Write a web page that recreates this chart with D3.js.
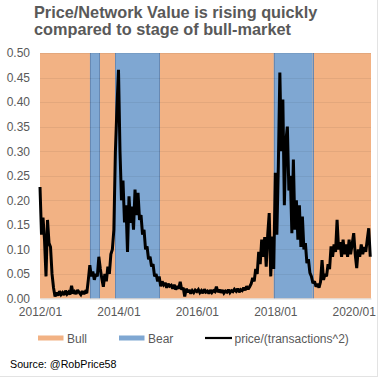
<!DOCTYPE html>
<html>
<head>
<meta charset="utf-8">
<script src="https://cdn.jsdelivr.net/npm/d3@7"></script>
<style>
  html, body { margin: 0; padding: 0; background: #fff; }
  svg { display: block; font-family: "Liberation Sans", Arial, sans-serif; }
</style>
</head>
<body>
<svg id="chart" width="379" height="378"></svg>
<script>
// ---- Data ----
const titleLines = ["Price/Network Value is rising quickly", "compared to stage of bull-market"];
const yTicks = [0.00, 0.05, 0.10, 0.15, 0.20, 0.25, 0.30, 0.35, 0.40, 0.45, 0.50];
const xTickLabels = ["2012/01", "2014/01", "2016/01", "2018/01", "2020/01"];
const xTickDates = ["2012-01-01", "2014-01-01", "2016-01-01", "2018-01-01", "2020-01-01"];
const xDomain = ["2012-01-01", "2020-06-10"];

// market phases
const bearStarts = ["2013-04-10", "2013-12-04", "2017-12-17"];
const bearEnds   = ["2013-07-06", "2015-01-16", "2018-12-15"];

// price/(transactions^2), one value every two weeks, per year
const years = [2012, 2013, 2014, 2015, 2016, 2017, 2018, 2019, 2020];
const values2012 = [0.227, 0.13, 0.165, 0.12, 0.045, 0.16, 0.113, 0.105, 0.05, 0.022, 0.004, 0.012, 0.006, 0.015, 0.008, 0.012, 0.007, 0.016, 0.009, 0.013, 0.008, 0.026, 0.01, 0.014, 0.009, 0.017];
const values2013 = [0.012, 0.008, 0.015, 0.009, 0.014, 0.011, 0.038, 0.068, 0.045, 0.055, 0.038, 0.05, 0.045, 0.085, 0.06, 0.04, 0.024, 0.05, 0.035, 0.065, 0.05, 0.09, 0.1, 0.14, 0.297, 0.385];
const values2014 = [0.466, 0.30, 0.20, 0.24, 0.155, 0.19, 0.095, 0.208, 0.154, 0.187, 0.14, 0.222, 0.17, 0.215, 0.16, 0.17, 0.13, 0.14, 0.10, 0.106, 0.08, 0.085, 0.065, 0.07, 0.045, 0.05];
const values2015 = [0.035, 0.045, 0.025, 0.035, 0.028, 0.032, 0.022, 0.03, 0.025, 0.027, 0.02, 0.028, 0.018, 0.025, 0.02, 0.034, 0.018, 0.022, 0.004, 0.02, 0.013, 0.018, 0.01, 0.016, 0.012, 0.017];
const values2016 = [0.014, 0.018, 0.012, 0.016, 0.011, 0.019, 0.013, 0.015, 0.01, 0.017, 0.012, 0.016, 0.014, 0.024, 0.013, 0.018, 0.012, 0.017, 0.011, 0.015, 0.013, 0.018, 0.012, 0.016, 0.014, 0.019];
const values2017 = [0.015, 0.02, 0.013, 0.018, 0.016, 0.022, 0.017, 0.025, 0.019, 0.024, 0.03, 0.042, 0.035, 0.06, 0.05, 0.095, 0.07, 0.12, 0.085, 0.125, 0.065, 0.13, 0.174, 0.045, 0.126, 0.06];
const values2018 = [0.256, 0.13, 0.27, 0.46, 0.30, 0.405, 0.19, 0.32, 0.35, 0.22, 0.25, 0.133, 0.283, 0.14, 0.20, 0.12, 0.19, 0.105, 0.167, 0.10, 0.113, 0.072, 0.08, 0.052, 0.045, 0.031];
const values2019 = [0.035, 0.024, 0.03, 0.022, 0.034, 0.078, 0.038, 0.05, 0.045, 0.07, 0.06, 0.106, 0.085, 0.11, 0.095, 0.16, 0.1, 0.115, 0.085, 0.12, 0.09, 0.11, 0.085, 0.12, 0.09, 0.11];
const values2020 = [0.133, 0.09, 0.062, 0.1, 0.085, 0.11, 0.09, 0.105, 0.095, 0.12, 0.143, 0.085];
const yearValues = [values2012, values2013, values2014, values2015, values2016, values2017, values2018, values2019, values2020];

const legendLabels = ["Bull", "Bear", "price/(transactions^2)"];
const sourceText = "Source: @RobPrice58";

// ---- Build ----
const parse = d3.timeParse("%Y-%m-%d");
const series = [];
years.forEach((y, k) => {
  yearValues[k].forEach((v, i) => series.push({ date: new Date(y, 0, 1 + i * 14), value: v }));
});

const bullColor = "#F2B284";
const bearColor = "#7FA7D2";
const textColor = "#595959";

const margin = { left: 40, right: 8, top: 53, bottom: 79.5 };
const W = 379, H = 378;
const svg = d3.select("#chart");

const x = d3.scaleTime().domain(xDomain.map(parse)).range([margin.left, W - margin.right]);
const y = d3.scaleLinear().domain([0, 0.5]).range([H - margin.bottom, margin.top]);

// outer border (right/bottom)
svg.append("line").attr("x1", 377.5).attr("x2", 377.5).attr("y1", 0).attr("y2", 377).attr("stroke", "#e3e3e3");
svg.append("line").attr("x1", 0).attr("x2", 378).attr("y1", 376.5).attr("y2", 376.5).attr("stroke", "#e3e3e3");

// title
const title = svg.append("text").attr("font-weight", "bold").attr("font-size", 16.3).attr("fill", textColor);
titleLines.forEach((t, i) => title.append("tspan").attr("x", 34).attr("y", 18 + i * 17).text(t));

// background bull
const [x0, x1] = x.range();
svg.append("rect").attr("x", x0).attr("y", y(0.5)).attr("width", x1 - x0).attr("height", y(0) - y(0.5)).attr("fill", bullColor);

// bear bands
const bears = bearStarts.map((s, i) => ({ s: parse(s), e: parse(bearEnds[i]) }));
svg.selectAll("rect.bear").data(bears).join("rect").attr("class", "bear")
  .attr("x", d => x(d.s)).attr("width", d => x(d.e) - x(d.s))
  .attr("y", y(0.5)).attr("height", y(0) - y(0.5)).attr("fill", bearColor);
bears.forEach(d => {
  [d.s, d.e].forEach(t => {
    svg.append("line").attr("x1", Math.round(x(t)) + 0.5).attr("x2", Math.round(x(t)) + 0.5)
      .attr("y1", y(0.5)).attr("y2", y(0)).attr("stroke", "#6789B3").attr("stroke-width", 1);
  });
});

// gridlines
svg.selectAll("line.grid").data(yTicks.filter(v => v > 0)).join("line").attr("class", "grid")
  .attr("x1", x0).attr("x2", x1).attr("y1", d => Math.round(y(d)) + 0.5).attr("y2", d => Math.round(y(d)) + 0.5)
  .attr("stroke", "#000").attr("stroke-opacity", 0.06);

// y axis labels
const yAxis = d3.axisLeft(y).tickValues(yTicks).tickFormat(d3.format(".2f")).tickSize(0).tickPadding(10);
const gy = svg.append("g").attr("transform", `translate(${x0},0)`).call(yAxis);
gy.select(".domain").remove();
gy.selectAll("text").attr("fill", textColor).attr("font-size", 12).attr("font-family", "Liberation Sans, Arial, sans-serif");

// x axis
const xAxis = d3.axisBottom(x).tickValues(xTickDates.map(parse))
  .tickFormat((d, i) => xTickLabels[i]).tickSize(0).tickPadding(9);
const gx = svg.append("g").attr("transform", `translate(0,${y(0)})`).call(xAxis);
gx.select(".domain").attr("stroke", "#d9d9d9");
gx.selectAll("text").attr("fill", textColor).attr("font-size", 12).attr("font-family", "Liberation Sans, Arial, sans-serif");

// line
const line = d3.line().x(d => x(d.date)).y(d => y(d.value));
svg.append("path").datum(series).attr("d", line).attr("fill", "none")
  .attr("stroke", "#000").attr("stroke-width", 3).attr("stroke-linejoin", "miter").attr("stroke-miterlimit", 2);

// legend
const lg = svg.append("g").attr("font-size", 12).attr("fill", textColor);
lg.append("rect").attr("x", 38).attr("y", 335.5).attr("width", 25.5).attr("height", 5).attr("fill", bullColor);
lg.append("text").attr("x", 67).attr("y", 342.5).text(legendLabels[0]);
lg.append("rect").attr("x", 119).attr("y", 335.5).attr("width", 25.5).attr("height", 5).attr("fill", bearColor);
lg.append("text").attr("x", 148).attr("y", 342.5).text(legendLabels[1]);
lg.append("line").attr("x1", 205).attr("x2", 232).attr("y1", 338).attr("y2", 338).attr("stroke", "#000").attr("stroke-width", 2.2);
lg.append("text").attr("x", 234.5).attr("y", 342.5).text(legendLabels[2]);

// source
svg.append("text").attr("x", 10).attr("y", 368).attr("font-size", 10.7).attr("fill", "#000").text(sourceText);
</script>
</body>
</html>
